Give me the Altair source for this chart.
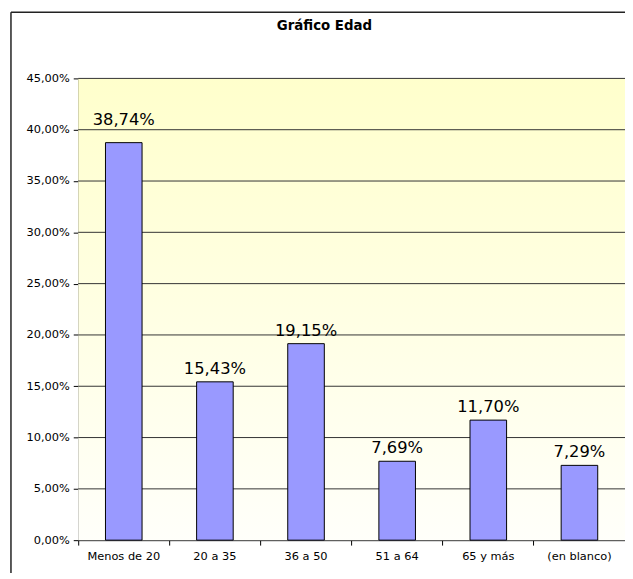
import altair as alt
import pandas as pd

categories = ["Menos de 20", "20 a 35", "36 a 50", "51 a 64", "65 y más", "(en blanco)"]
values = [0.3874, 0.1543, 0.1915, 0.0769, 0.1170, 0.0729]
y_ticks = [0.0, 0.05, 0.10, 0.15, 0.20, 0.25, 0.30, 0.35, 0.40, 0.45]
title_text = "Gráfico Edad"

W, H = 553, 467
FONT = "DejaVu Sans"

df = pd.DataFrame({"cat": categories, "v": values})
grid_df = pd.DataFrame({"t": y_ticks[1:]})
one = pd.DataFrame({"a": [0]})

yscale = alt.Scale(domain=[0, 0.45], nice=False, zero=True)
xscale = alt.Scale(domain=categories, paddingInner=0, paddingOuter=0)

yaxis = alt.Axis(title=None, values=y_ticks, tickSize=5, labelPadding=4,
                 labelFont=FONT, labelFontSize=11.5, labelColor="#000000",
                 domainColor="#000000", tickColor="#000000", grid=False,
                 labelExpr="replace(format(datum.value, '.2%'), '.', ',')")
xaxis = alt.Axis(title=None, labelAngle=0, bandPosition=0, tickSize=5,
                 labelPadding=6, labelFont=FONT, labelFontSize=11.5,
                 labelColor="#000000", domainColor="#000000",
                 tickColor="#000000", grid=False)

bg = alt.Chart(one).mark_rect(
    color=alt.LinearGradient(
        gradient="linear", x1=0, y1=0, x2=0, y2=1,
        stops=[alt.GradientStop(offset=0, color="#FFFFCC"),
               alt.GradientStop(offset=1, color="#FFFFFA")],
    )
).encode(x=alt.value(0), x2=alt.value(W), y=alt.value(0), y2=alt.value(H))

grid = alt.Chart(grid_df).mark_rule(color="#333333", strokeWidth=1).encode(
    y=alt.Y("t:Q", scale=yscale, axis=yaxis)
)

bars = alt.Chart(df).mark_bar(size=37, color="#9999FF", stroke="#000000", strokeWidth=1).encode(
    x=alt.X("cat:N", scale=xscale, sort=categories, axis=xaxis),
    y=alt.Y("v:Q", scale=yscale, axis=yaxis),
)

label_base = alt.Chart(df).transform_calculate(
    lab="replace(format(datum.v, '.2%'), '.', ',')"
)
labels = label_base.transform_filter(alt.datum.cat != categories[0]).mark_text(
    font=FONT, fontSize=16.5, color="#000000", baseline="alphabetic", dy=-8
).encode(
    x=alt.X("cat:N", scale=xscale, sort=categories, axis=xaxis),
    y=alt.Y("v:Q", scale=yscale, axis=yaxis),
    text="lab:N",
)
label_first = label_base.transform_filter(alt.datum.cat == categories[0]).mark_text(
    font=FONT, fontSize=16.5, color="#000000", baseline="alphabetic", dy=-18
).encode(
    x=alt.X("cat:N", scale=xscale, sort=categories, axis=xaxis),
    y=alt.Y("v:Q", scale=yscale, axis=yaxis),
    text="lab:N",
)

border_v = alt.Chart(one).mark_rule(color="#222222", strokeWidth=1.5).encode(
    x=alt.value(-68), y=alt.value(-67), y2=alt.value(H + 60)
)
border_h = alt.Chart(one).mark_rule(color="#222222", strokeWidth=1.5).encode(
    x=alt.value(-68), x2=alt.value(W + 10), y=alt.value(-67)
)

title = alt.Chart(one).mark_text(
    text=title_text, font=FONT, fontSize=13.5, fontWeight="bold", color="#000000",
    baseline="alphabetic", align="center"
).encode(x=alt.value(328 - 79), y=alt.value(27 - 76))

chart = alt.layer(bg, grid, bars, labels, label_first, border_v, border_h, title).properties(
    width=W, height=H,
    autosize=alt.AutoSizeParams(type="none"),
    padding={"left": 71, "top": 68, "right": 0, "bottom": 30},
    background="#FFFFFF",
).configure_view(stroke=None)

chart.save("out.html", embed_options={"renderer": "svg", "actions": False})
